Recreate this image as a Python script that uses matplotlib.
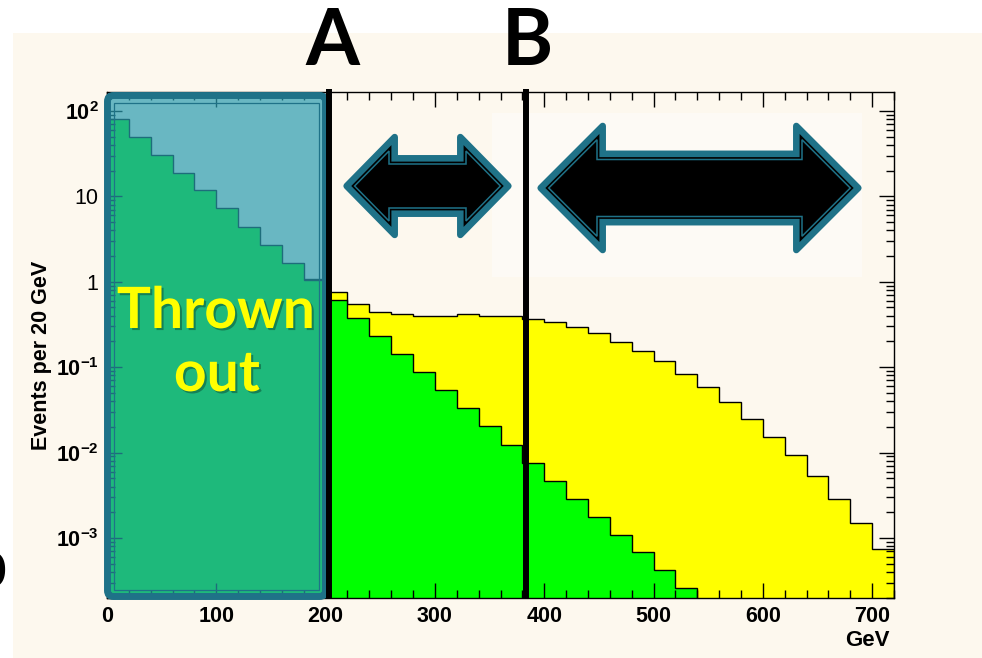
import numpy as np
import matplotlib.pyplot as plt
import matplotlib.patheffects as pe
from matplotlib.patches import Rectangle, FancyBboxPatch, Polygon
from matplotlib.ticker import MultipleLocator, LogLocator, NullFormatter
from matplotlib.transforms import blended_transform_factory

plt.rcParams['font.family'] = ['Liberation Sans', 'DejaVu Sans']
plt.rcParams['mathtext.fontset'] = 'custom'
plt.rcParams['mathtext.rm'] = 'Liberation Sans:bold'
plt.rcParams['mathtext.it'] = 'Liberation Sans:bold'
plt.rcParams['mathtext.bf'] = 'Liberation Sans:bold'

# --- data (events per 20 GeV bin) ---
bin_width = 20
green_counts = [80, 49, 30.8, 19, 11.8, 7.3, 4.4, 2.7, 1.67, 1.05,
                0.612, 0.38, 0.232, 0.143, 0.088, 0.054, 0.0333, 0.0203, 0.0124, 0.0076,
                0.00465, 0.00286, 0.00176, 0.00107, 0.000686, 0.000419, 0.000257]
yellow_counts = [0.9, 0.95, 1.0, 1.0, 1.02, 1.04, 1.05, 1.06, 1.08, 1.09,
                 0.753, 0.55, 0.447, 0.416, 0.40, 0.40, 0.416, 0.40, 0.40, 0.364,
                 0.336, 0.298, 0.253, 0.197, 0.155, 0.118, 0.084, 0.058, 0.039, 0.0247,
                 0.0152, 0.00938, 0.00527, 0.00286, 0.00149, 0.00074]
cut_A = 203.5
cut_B = 383.0
x_ticks = [0, 100, 200, 300, 400, 500, 600, 700]
y_ticks = [1e-3, 1e-2, 1e-1, 1, 10, 100]
y_tick_labels = [r'$10^{-3}$', r'$10^{-2}$', r'$10^{-1}$', '1', '10', r'$10^{2}$']

W, H = 982, 658
fig = plt.figure(figsize=(W / 100, H / 100), dpi=100)
fig.patch.set_facecolor('white')
# slide background (cream)
fig.add_artist(Rectangle((13 / W, 0), 1 - 13 / W, 1 - 33 / H, transform=fig.transFigure,
                         facecolor='#fdf8ee', edgecolor='none', zorder=-10))

ax = fig.add_axes([107 / W, 60 / H, 787 / W, 506 / H])
ax.set_facecolor('none')
ax.set_yscale('log')

edges_y = np.arange(len(yellow_counts) + 1) * bin_width
edges_g = np.arange(len(green_counts) + 1) * bin_width
ax.stairs(yellow_counts, edges_y, baseline=1e-6, fill=True, color='#ffff00', zorder=1)
ax.stairs(yellow_counts, edges_y, baseline=1e-6, color='black', lw=1.0, zorder=1.1)
ax.stairs(green_counts, edges_g, baseline=1e-6, fill=True, color='#00ff00', zorder=1.2)
ax.stairs(green_counts, edges_g, baseline=1e-6, color='black', lw=1.0, zorder=1.3)

ax.set_xlim(0, 720)
ax.set_ylim(1.98e-4, 167)
ax.set_xticks(x_ticks, labels=[str(v) for v in x_ticks], fontsize=15.5, fontweight='bold')
ax.set_yticks(y_ticks, labels=y_tick_labels, fontsize=15.5)
ax.xaxis.set_minor_locator(MultipleLocator(20))
ax.yaxis.set_minor_locator(LogLocator(base=10, subs=np.arange(2, 10)))
ax.yaxis.set_minor_formatter(NullFormatter())
ax.tick_params(which='both', direction='in', top=True, right=True, width=1.0, color='black')
ax.tick_params(which='major', length=11)
ax.tick_params(which='minor', length=5.5)
ax.tick_params(axis='x', pad=6)
ax.tick_params(axis='y', pad=6)
for s in ax.spines.values():
    s.set_linewidth(1.0)

ax.set_ylabel('Events per 20 GeV', fontsize=15.5, fontweight='bold')
ax.yaxis.set_label_coords(-0.07, 0.48)
ax.set_xlabel('GeV', fontsize=16, fontweight='bold', ha='right')
ax.xaxis.set_label_coords(0.995, -0.063)

# --- overlay in pixel coordinates ---
ov = fig.add_axes([0, 0, 1, 1], zorder=1)
ov.set_xlim(0, W)
ov.set_ylim(H, 0)
ov.axis('off')
ov.patch.set_alpha(0)

teal = '#1f7288'
ov.add_patch(Rectangle((492, 113), 370, 164, facecolor='#fdfaf5', edgecolor='none', zorder=1))

# "thrown out" region box
ov.add_patch(FancyBboxPatch((107.5, 95.5), 218, 501, boxstyle='round,pad=0,rounding_size=6',
                            facecolor=(0.17, 0.61, 0.69, 0.70), edgecolor=teal, lw=5, zorder=2))
ov.add_patch(FancyBboxPatch((114, 103), 205, 487, boxstyle='square,pad=0',
                            facecolor='none', edgecolor=teal, lw=0.9, zorder=2.1))

# cut lines
bt = blended_transform_factory(ax.transData, ov.transData)
for xc in (cut_A, cut_B):
    ov.plot([xc, xc], [89, 598], color='black', lw=4.3, transform=bt, zorder=3,
            solid_capstyle='butt')


def double_arrow(x0, x1, yc, hh, sh, hl):
    return np.array([[x0, yc], [x0 + hl, yc - hh], [x0 + hl, yc - sh], [x1 - hl, yc - sh],
                     [x1 - hl, yc - hh], [x1, yc], [x1 - hl, yc + hh], [x1 - hl, yc + sh],
                     [x0 + hl, yc + sh], [x0 + hl, yc + hh]], float)


def inset(pts, d):
    area = 0.5 * np.sum(pts[:, 0] * np.roll(pts[:, 1], -1) - np.roll(pts[:, 0], -1) * pts[:, 1])
    e = np.roll(pts, -1, axis=0) - pts
    e /= np.hypot(e[:, 0], e[:, 1])[:, None]
    n = np.column_stack([-e[:, 1], e[:, 0]]) * (1 if area > 0 else -1)
    n_prev = np.roll(n, 1, axis=0)
    return pts + d * (n_prev + n) / (1 + np.sum(n_prev * n, axis=1))[:, None]


for shape in (double_arrow(342, 513, 186, 57, 31, 56), double_arrow(536, 863, 188, 70, 37.5, 70)):
    ov.add_patch(Polygon(inset(shape, 3.3), closed=True, facecolor=teal, edgecolor=teal,
                         lw=4.7, joinstyle='round', zorder=4))
    ov.add_patch(Polygon(inset(shape, 6.6), closed=True, facecolor='black', edgecolor='none', zorder=4.1))
    ov.add_patch(Polygon(inset(shape, 9.0), closed=True, facecolor='none', edgecolor=teal,
                         lw=1.1, joinstyle='miter', zorder=4.2))

ov.text(332.5, 65, 'A', ha='center', va='baseline', fontsize=56, fontweight='bold',
        family=['Lato', 'DejaVu Sans'], zorder=5)
ov.text(527, 65, 'B', ha='center', va='baseline', fontsize=56, fontweight='bold',
        family=['Lato', 'DejaVu Sans'], zorder=5)

shadow = [pe.withSimplePatchShadow(offset=(1.5, -1.5), shadow_rgbFace='black', alpha=0.3)]
ov.text(216, 328, 'Thrown', ha='center', va='baseline', fontsize=41, fontweight='bold',
        color='#ffff00', family=['Lato', 'DejaVu Sans'], path_effects=shadow, zorder=5)
ov.text(217, 391, 'out', ha='center', va='baseline', fontsize=41, fontweight='bold',
        color='#ffff00', family=['Lato', 'DejaVu Sans'], path_effects=shadow, zorder=5)

# edge of a larger label that is cut off by the slide border in the original
ov.text(6, 587, '0', ha='right', va='baseline', fontsize=34, fontweight='bold',
        family=['Lato', 'DejaVu Sans'], zorder=5)

fig.savefig('out.png', dpi=100)
